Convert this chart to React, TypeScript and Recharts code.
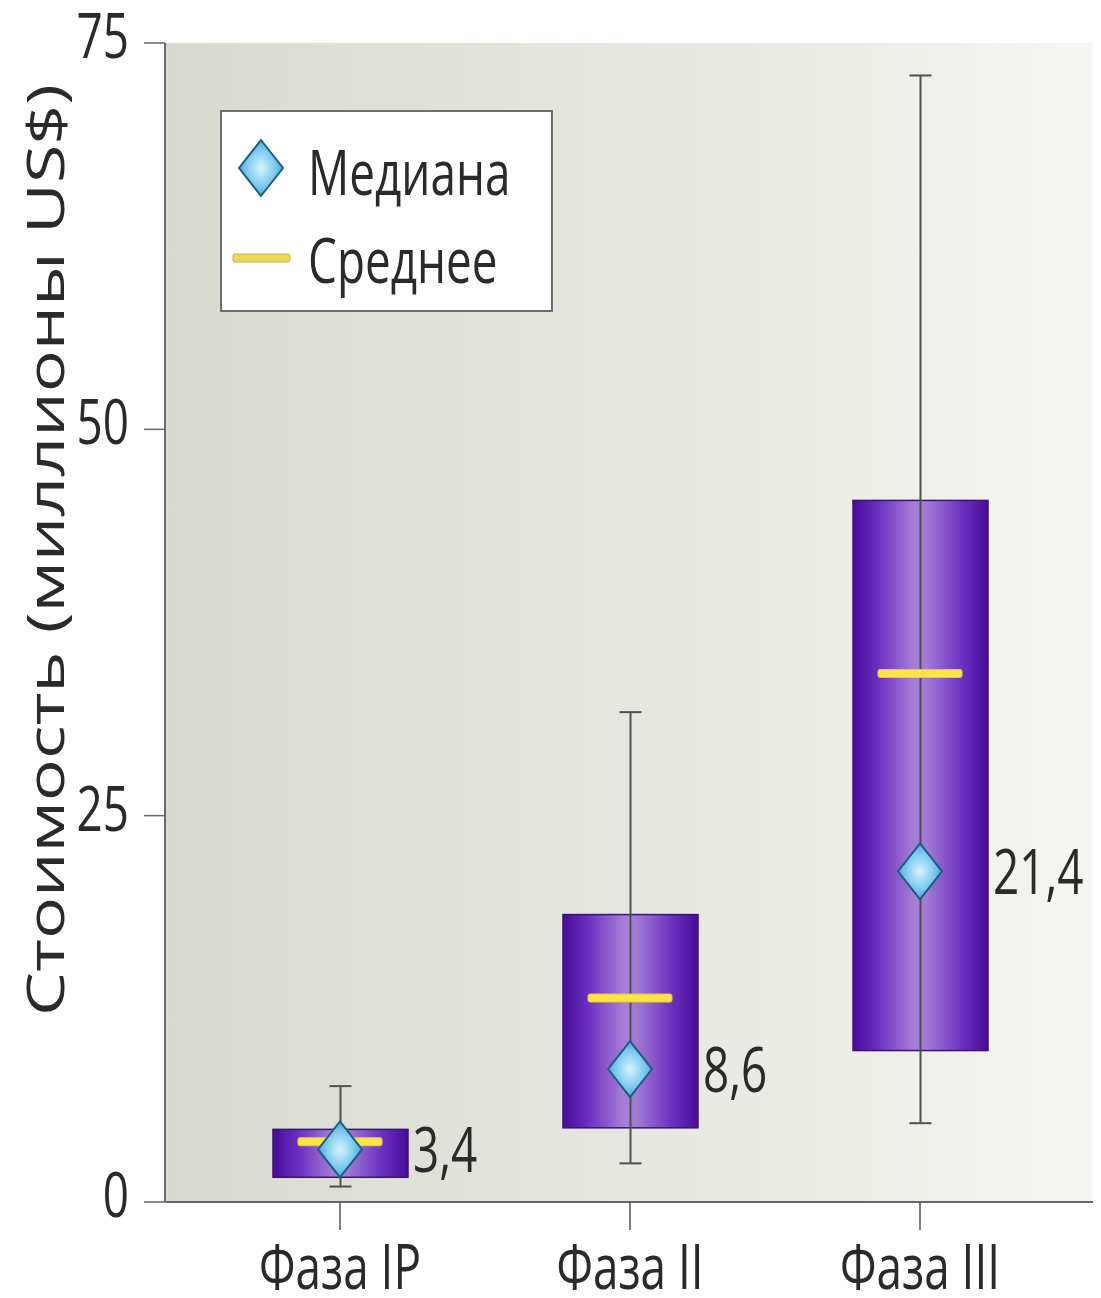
import React from 'react';
import { ComposedChart, Bar, Scatter, XAxis, YAxis, CartesianGrid, Legend } from 'recharts';

const phases = ['Фаза IP', 'Фаза II', 'Фаза III'];
const minVals = [1.0, 2.5, 5.1];
const q1Vals = [1.6, 4.8, 9.8];
const q3Vals = [4.7, 18.6, 45.4];
const maxVals = [7.5, 31.7, 72.9];
const meanVals = [3.9, 13.2, 34.2];
const medianVals = [3.4, 8.6, 21.4];
const medianLabels = ['3,4', '8,6', '21,4'];
const yTicks = [0, 25, 50, 75];
const legendItems = ['Медиана', 'Среднее'];

const rows = phases.map((phase, i) => ({
  phase,
  box: [q1Vals[i], q3Vals[i]],
  whisker: [minVals[i], maxVals[i]],
  mean: meanVals[i],
  median: medianVals[i],
  label: medianLabels[i],
}));

const FONT = '"Open Sans", "Noto Sans", sans-serif';
const TXT = '#2a2a2a';
const SQ = 0.74;
const FS = 62;

const BoxShape = (props: any) => {
  const { x, y, width, height } = props;
  return (
    <rect x={x} y={y} width={width} height={height} fill="url(#boxGrad)" stroke="#3b1470" strokeWidth={1.5} />
  );
};

const WhiskerShape = (props: any) => {
  const { x, y, width, height } = props;
  const cx = x + width / 2;
  return (
    <g stroke="#505050" strokeWidth={2}>
      <line x1={cx} y1={y} x2={cx} y2={y + height} />
      <line x1={cx - 11} y1={y} x2={cx + 11} y2={y} />
      <line x1={cx - 11} y1={y + height} x2={cx + 11} y2={y + height} />
    </g>
  );
};

const MeanShape = (props: any) => {
  const { cx, cy } = props;
  return <rect x={cx - 42} y={cy - 4} width={84} height={8} rx={2} fill="#fde446" stroke="#e8c83a" strokeWidth={1} />;
};

const MedianShape = (props: any) => {
  const { cx, cy, payload } = props;
  const hw = 22;
  const hh = 28;
  return (
    <g>
      <path
        d={`M${cx},${cy - hh} L${cx + hw},${cy} L${cx},${cy + hh} L${cx - hw},${cy} Z`}
        fill="url(#diaGrad)"
        stroke="#1f5d7e"
        strokeWidth={2}
      />
      <text
        transform={`translate(${cx + 73},${cy + 23}) scale(${SQ},1)`}
        fontFamily={FONT}
        fontSize={FS}
        fill={TXT}
      >
        {payload.label}
      </text>
    </g>
  );
};

const YTick = (props: any) => {
  const { x, y, payload } = props;
  return (
    <text transform={`translate(${x},${y + 15}) scale(${SQ},1)`} textAnchor="end" fontFamily={FONT} fontSize={FS} fill={TXT}>
      {payload.value}
    </text>
  );
};

const XTick = (props: any) => {
  const { x, y, payload } = props;
  return (
    <text transform={`translate(${x},${y + 59}) scale(${SQ},1)`} textAnchor="middle" fontFamily={FONT} fontSize={FS} fill={TXT}>
      {payload.value}
    </text>
  );
};

const YLabel = (props: any) => {
  const { viewBox } = props;
  const x = viewBox.x + 56;
  const y = viewBox.y + 507;
  return (
    <text
      transform={`translate(${x},${y}) rotate(-90)`}
      textAnchor="middle"
      fontFamily={FONT}
      fontSize={52}
      fill={TXT}
      textLength={932}
      lengthAdjust="spacingAndGlyphs"
    >
      Стоимость (миллионы US$)
    </text>
  );
};

const LegendContent = () => (
  <svg width={334} height={203} style={{ display: 'block' }}>
    <defs>
      <radialGradient id="legDia" cx="50%" cy="50%" r="55%">
        <stop offset="0%" stopColor="#d4f4ff" />
        <stop offset="60%" stopColor="#7cc8ef" />
        <stop offset="100%" stopColor="#3d9bd6" />
      </radialGradient>
    </defs>
    <rect x={1} y={1} width={331} height={200} fill="#ffffff" stroke="#6e6e6e" strokeWidth={2} />
    <path d="M41,30 L63,58 L41,86 L19,58 Z" fill="url(#legDia)" stroke="#1f5d7e" strokeWidth={2} />
    <text transform={`translate(88,85) scale(${SQ},1)`} fontFamily={FONT} fontSize={FS} fill={TXT}>
      {legendItems[0]}
    </text>
    <rect x={13} y={144} width={57} height={8} rx={2} fill="#ecd95a" stroke="#c8b440" strokeWidth={1} />
    <text transform={`translate(88,173) scale(${SQ},1)`} fontFamily={FONT} fontSize={FS} fill={TXT}>
      {legendItems[1]}
    </text>
  </svg>
);

export default function App() {
  return (
    <ComposedChart
      width={1093}
      height={1290}
      data={rows}
      margin={{ top: 35, right: 0, bottom: 0, left: 0 }}
      style={{ fontFamily: FONT }}
    >
      <defs>
        <linearGradient id="bgGrad" x1="0" y1="0" x2="1" y2="0">
          <stop offset="0%" stopColor="#d8d9d0" />
          <stop offset="100%" stopColor="#f5f5f1" />
        </linearGradient>
        <linearGradient id="boxGrad" x1="0" y1="0" x2="1" y2="0">
          <stop offset="0%" stopColor="#480c98" />
          <stop offset="18%" stopColor="#6a2dbf" />
          <stop offset="45%" stopColor="#a67fd9" />
          <stop offset="55%" stopColor="#a07ad6" />
          <stop offset="82%" stopColor="#6a2dbf" />
          <stop offset="100%" stopColor="#480c98" />
        </linearGradient>
        <radialGradient id="diaGrad" cx="50%" cy="50%" r="55%">
          <stop offset="0%" stopColor="#d4f4ff" />
          <stop offset="60%" stopColor="#7cc8ef" />
          <stop offset="100%" stopColor="#3d9bd6" />
        </radialGradient>
      </defs>
      <CartesianGrid fill="url(#bgGrad)" horizontal={false} vertical={false} stroke="none" />
      <XAxis
        xAxisId="a"
        dataKey="phase"
        type="category"
        padding={{ left: 30, right: 36 }}
        height={96}
        tickSize={28}
        tickMargin={0}
        axisLine={{ stroke: '#666', strokeWidth: 2 }}
        tickLine={{ stroke: '#555', strokeWidth: 1.5 }}
        tick={<XTick />}
        interval={0}
      />
      <XAxis xAxisId="b" dataKey="phase" type="category" padding={{ left: 30, right: 36 }} hide />
      <YAxis
        yAxisId="y"
        type="number"
        domain={[0, 75]}
        ticks={yTicks}
        width={157}
        tickSize={21}
        tickMargin={15}
        axisLine={{ stroke: '#6a6a6a', strokeWidth: 2 }}
        tickLine={{ stroke: '#666', strokeWidth: 1.5 }}
        tick={<YTick />}
        label={<YLabel />}
        interval={0}
      />
      <Legend
        layout="horizontal"
        verticalAlign="middle"
        align="center"
        content={<LegendContent />}
        wrapperStyle={{ position: 'absolute', left: 212, top: 102, width: 334, height: 203 }}
      />
      <Bar xAxisId="a" yAxisId="y" dataKey="box" barSize={135} shape={<BoxShape />} isAnimationActive={false} />
      <Bar xAxisId="b" yAxisId="y" dataKey="whisker" barSize={135} shape={<WhiskerShape />} isAnimationActive={false} />
      <Scatter xAxisId="a" yAxisId="y" dataKey="mean" shape={<MeanShape />} isAnimationActive={false} />
      <Scatter xAxisId="a" yAxisId="y" dataKey="median" shape={<MedianShape />} isAnimationActive={false} />
    </ComposedChart>
  );
}
